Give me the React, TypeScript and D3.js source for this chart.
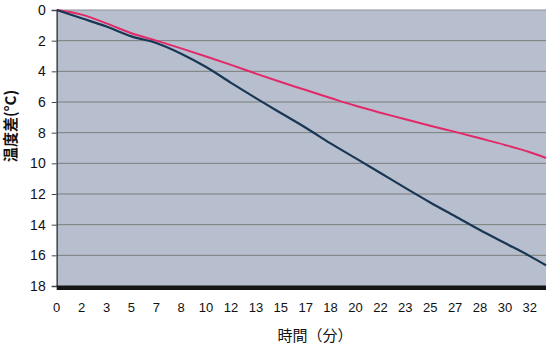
import React, { useEffect, useRef } from 'react';
import * as d3 from 'd3';

// time in minutes (one reading every 100 s, plus the last one)
const times = [0, 1.67, 3.33, 5, 6.67, 8.33, 10, 11.67, 13.33, 15, 16.67, 18.33, 20, 21.67, 23.33, 25, 26.67, 28.33, 30, 31.67, 32.75];
// temperature difference, dark series
const darkSeries = [0, 0.54, 1.08, 1.72, 2.15, 2.85, 3.72, 4.75, 5.75, 6.72, 7.68, 8.7, 9.66, 10.63, 11.6, 12.55, 13.45, 14.35, 15.2, 16.05, 16.65];
// temperature difference, pink series
const pinkSeries = [0, 0.3, 0.87, 1.52, 2.0, 2.5, 3.03, 3.58, 4.15, 4.7, 5.22, 5.74, 6.25, 6.7, 7.12, 7.55, 7.95, 8.37, 8.8, 9.28, 9.65];

const xTickLabels = ['0', '2', '3', '5', '7', '8', '10', '12', '13', '15', '17', '18', '20', '22', '23', '25', '27', '28', '30', '32'];
const yTicks = [0, 2, 4, 6, 8, 10, 12, 14, 16, 18];

const App = () => {
  const ref = useRef(null);

  useEffect(() => {
    document.body.style.margin = '0';
    const svg = d3.select(ref.current);
    svg.selectAll('*').remove();

    const left = 56.7, right = 546, top = 10, bottom = 286;

    const x = d3.scaleLinear().domain([0, 32.75]).range([left, right]);
    const y = d3.scaleLinear().domain([0, 18]).range([top, bottom]);

    // plot background
    svg.append('rect')
      .attr('x', left).attr('y', top)
      .attr('width', right - left).attr('height', bottom - top)
      .attr('fill', '#b7bfce');

    // horizontal grid lines
    svg.append('g')
      .selectAll('line')
      .data(yTicks.filter(d => d > 0 && d < 18))
      .enter()
      .append('line')
      .attr('x1', left).attr('x2', right)
      .attr('y1', d => y(d)).attr('y2', d => y(d))
      .attr('stroke', '#7b7e78')
      .attr('stroke-width', 1);

    // top edge
    svg.append('line')
      .attr('x1', left).attr('x2', right)
      .attr('y1', top).attr('y2', top)
      .attr('stroke', '#8a8f98').attr('stroke-width', 1);

    // y axis
    const yAxis = svg.append('g')
      .attr('transform', `translate(${left}, 0)`)
      .call(d3.axisLeft(y).tickValues(yTicks).tickSize(5).tickPadding(6));
    yAxis.select('.domain').attr('stroke', '#44474c').attr('stroke-width', 1.5);
    yAxis.selectAll('.tick line').attr('stroke', '#44474c');
    yAxis.selectAll('text')
      .style('font-family', '"Liberation Sans", Arial, sans-serif')
      .style('font-size', '14px')
      .attr('fill', '#111');

    // thick bottom bar
    svg.append('rect')
      .attr('x', left).attr('y', bottom - 0.5)
      .attr('width', right - left).attr('height', 4.5)
      .attr('fill', '#151515');

    // x tick labels
    const xTickValues = xTickLabels.map((_, i) => i * 5 / 3);
    svg.append('g')
      .selectAll('text')
      .data(xTickLabels)
      .enter()
      .append('text')
      .attr('x', (d, i) => x(xTickValues[i]))
      .attr('y', 312)
      .attr('text-anchor', 'middle')
      .style('font-family', '"Liberation Sans", Arial, sans-serif')
      .style('font-size', '13px')
      .attr('fill', '#111')
      .text(d => d);

    const line = d3.line()
      .x((d, i) => x(times[i]))
      .y(d => y(d))
      .curve(d3.curveMonotoneX);

    svg.append('path')
      .datum(pinkSeries)
      .attr('d', line)
      .attr('fill', 'none')
      .attr('stroke', '#e3286a')
      .attr('stroke-width', 2);

    svg.append('path')
      .datum(darkSeries)
      .attr('d', line)
      .attr('fill', 'none')
      .attr('stroke', '#173754')
      .attr('stroke-width', 2.2);

    // axis titles
    svg.append('text')
      .attr('transform', 'translate(16, 126) rotate(-90)')
      .attr('text-anchor', 'middle')
      .style('font-family', '"Noto Sans CJK JP", sans-serif')
      .style('font-size', '15px')
      .style('font-weight', 'bold')
      .attr('fill', '#111')
      .text('温度差(°C)');

    svg.append('text')
      .attr('x', 315)
      .attr('y', 341)
      .attr('text-anchor', 'middle')
      .style('font-family', '"Noto Sans CJK JP", sans-serif')
      .style('font-size', '15px')
      .attr('fill', '#111')
      .text('時間（分）');
  }, []);

  return (
    <svg ref={ref} width={550} height={347}
      style={{ display: 'block', position: 'absolute', left: 0, top: 0, background: '#fff' }} />
  );
};

export default App;
